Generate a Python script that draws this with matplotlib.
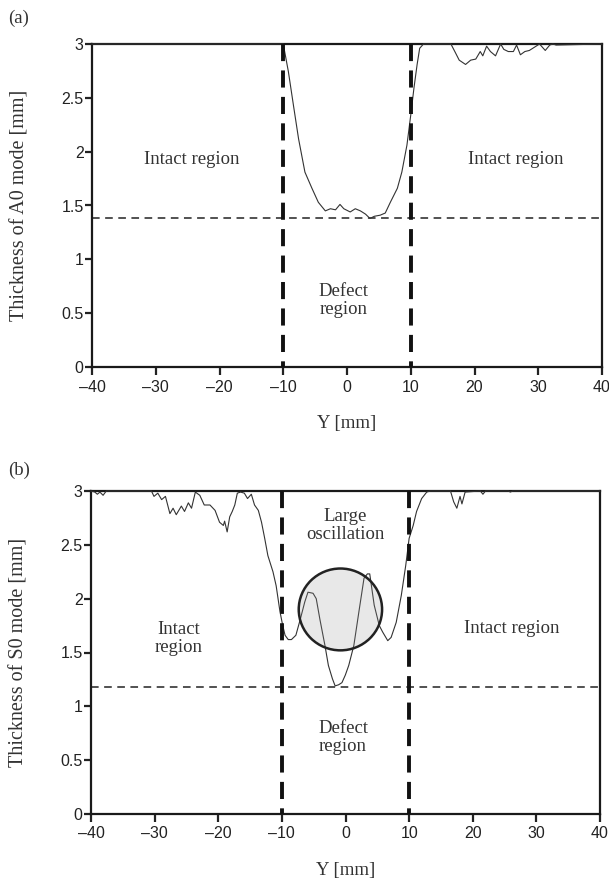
import matplotlib
matplotlib.use("Agg")
import matplotlib.pyplot as plt
from matplotlib.patches import Ellipse

# ---- data ----
a0_y_mm = [-40, -10.0, -9.2, -8.4, -7.6, -6.6, -5.5, -4.5, -3.4, -2.6, -1.8, -1.1,
           -0.5, 0.5, 1.3, 2.1, 2.9, 3.6, 4.3, 5.2, 6.0, 6.8, 7.9, 8.6, 9.4, 10.0,
           10.5, 11.0, 11.4, 12.0, 16.3, 17.0, 17.6, 18.6, 19.4, 20.2, 20.9, 21.3,
           21.9, 22.5, 23.3, 24.1, 24.6, 25.3, 26.1, 26.6, 27.2, 27.9, 28.6, 29.4,
           30.2, 31.1, 31.8, 32.3, 32.8, 40]
a0_thick = [3, 3, 2.745, 2.43, 2.12, 1.81, 1.66, 1.53, 1.45, 1.47, 1.46, 1.51,
            1.47, 1.44, 1.47, 1.45, 1.42, 1.38, 1.40, 1.41, 1.43, 1.53, 1.66, 1.81,
            2.06, 2.34, 2.59, 2.81, 2.96, 3, 3, 2.92, 2.85, 2.81, 2.85, 2.86, 2.93,
            2.89, 2.98, 2.93, 2.89, 3.0, 2.95, 2.93, 2.93, 2.99, 2.90, 2.93, 2.94,
            2.97, 3.0, 2.94, 2.99, 3.0, 2.99, 3]

s0_y_mm = [-40, -39.4, -39.0, -38.6, -38.1, -37.6, -30.5, -30.1, -29.5, -28.9,
           -28.3, -27.6, -27.1, -26.6, -25.8, -25.3, -24.7, -24.2, -23.6, -22.9,
           -22.2, -21.3, -20.5, -19.8, -19.2, -19.0, -18.6, -18.2, -17.8, -17.4,
           -17.0, -16.5, -15.9, -15.4, -14.8, -14.3, -13.7, -13.2, -12.7, -12.2,
           -11.4, -10.9, -10.3, -9.9, -9.5, -9.0, -8.5, -7.8, -7.1, -6.4, -5.9,
           -5.1, -4.6, -4.03, -3.23, -2.69, -2.05, -1.63, -1.09, -0.56, -0.03,
           0.51, 1.31, 2.11, 2.91, 3.44, 3.81, 4.51, 5.31, 5.84, 6.64, 7.17, 7.97,
           8.77, 9.47, 10.0, 10.64, 11.17, 11.97, 12.77, 13.3, 16.5, 17.0, 17.5,
           18.0, 18.3, 18.8, 21.2, 21.6, 22.0, 25.6, 25.9, 26.3, 40]
s0_thick = [3, 2.99, 2.97, 2.99, 2.96, 3, 3, 2.95, 2.98, 2.92,
            2.95, 2.79, 2.84, 2.78, 2.86, 2.81, 2.89, 2.84, 2.99, 2.96,
            2.87, 2.87, 2.82, 2.71, 2.68, 2.72, 2.62, 2.76, 2.81, 2.87,
            2.98, 2.99, 2.98, 2.93, 2.97, 2.87, 2.82, 2.71, 2.56, 2.40,
            2.25, 2.12, 1.88, 1.76, 1.66, 1.62, 1.62, 1.66, 1.81, 1.97, 2.06,
            2.05, 2.0, 1.81, 1.565, 1.38, 1.255, 1.19, 1.20, 1.22, 1.29,
            1.38, 1.565, 1.88, 2.19, 2.23, 2.23, 1.94, 1.75, 1.69, 1.61, 1.64, 1.78,
            2.03, 2.31, 2.56, 2.68, 2.81, 2.93, 2.99, 3.0, 3.0, 2.9, 2.84,
            2.95, 2.88, 2.99, 3.0, 2.97, 3.0, 3.0, 2.99, 3.0, 3.0]

defect_edges = [-10, 10]
a0_threshold = 1.38
s0_threshold = 1.18

x_ticks = [-40, -30, -20, -10, 0, 10, 20, 30, 40]
x_tick_labels = ["\u201340", "\u201330", "\u201320", "\u201310", "0", "10", "20", "30", "40"]
y_ticks = [0, 0.5, 1, 1.5, 2, 2.5, 3]
y_tick_labels = ["0", "0.5", "1", "1.5", "2", "2.5", "3"]

SERIF = "Liberation Serif"
SANS = "Liberation Sans"
W, H = 609, 886


def style_axes(ax, ylabel):
    ax.set_xlim(-40, 40)
    ax.set_ylim(0, 3)
    ax.set_xticks(x_ticks)
    ax.set_xticklabels(x_tick_labels, family=SANS, fontsize=11.5, color="#222222")
    ax.set_yticks(y_ticks)
    ax.set_yticklabels(y_tick_labels, family=SANS, fontsize=11.5, color="#222222")
    ax.tick_params(axis="y", direction="out", length=5, width=1.6, pad=1, color="#222222")
    ax.tick_params(axis="x", direction="out", length=6, width=1.6, pad=3, color="#222222")
    for sp in ax.spines.values():
        sp.set_linewidth(1.6)
        sp.set_color("#1a1a1a")
    ax.set_xlabel("Y [mm]", family=SERIF, fontsize=13.5, labelpad=15, color="#333333")
    ax.set_ylabel(ylabel, family=SERIF, fontsize=14.5, labelpad=23, color="#333333")


def draw_guides(ax, threshold):
    for xe in defect_edges:
        ax.plot([xe, xe], [3, 0], color="#111111", lw=2.8, dashes=(4.4, 2.4),
                solid_capstyle="butt", dash_capstyle="butt", zorder=4)
    ax.axhline(threshold, color="#222222", lw=1.1, dashes=(5, 3.6), zorder=2)


fig = plt.figure(figsize=(W / 100, H / 100), dpi=100)

ax1 = fig.add_axes([92 / W, 1 - 367 / H, 510 / W, 323 / H])
ax1.plot(a0_y_mm, a0_thick, color="#333333", lw=0.8, zorder=3, clip_on=False)
draw_guides(ax1, a0_threshold)
style_axes(ax1, "Thickness of A0 mode [mm]")
txt = dict(family=SERIF, fontsize=13.5, color="#333333", ha="center", va="center",
           linespacing=1.05)
ax1.text(-24.4, 1.93, "Intact region", **txt)
ax1.text(26.4, 1.93, "Intact region", **txt)
ax1.text(-0.5, 0.62, "Defect\nregion", **txt)

ax2 = fig.add_axes([91 / W, 1 - 814 / H, 509 / W, 323 / H])
ax2.plot(s0_y_mm, s0_thick, color="#333333", lw=0.8, zorder=3, clip_on=False)
ax2.add_patch(Ellipse((-0.8, 1.9), 13.1, 0.76, facecolor=(0.6, 0.6, 0.6, 0.22),
                      edgecolor="#222222", lw=1.8, zorder=5))
draw_guides(ax2, s0_threshold)
style_axes(ax2, "Thickness of S0 mode [mm]")
ax2.text(0.0, 2.68, "Large\noscillation", **txt)
ax2.text(-26.2, 1.63, "Intact\nregion", **txt)
ax2.text(26.1, 1.72, "Intact region", **txt)
ax2.text(-0.4, 0.71, "Defect\nregion", **txt)

fig.text(8 / W, 1 - 18 / H, "(a)", family=SERIF, fontsize=13.5, color="#333333", va="center")
fig.text(8 / W, 1 - 470 / H, "(b)", family=SERIF, fontsize=13.5, color="#333333", va="center")

fig.savefig("out.png", dpi=100)
